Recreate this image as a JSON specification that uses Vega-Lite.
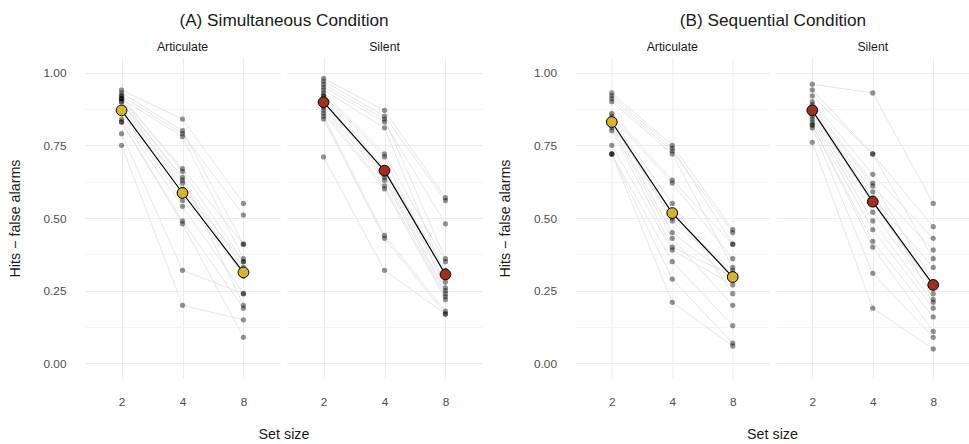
{
  "$schema": "https://vega.github.io/schema/vega-lite/v6.json",
  "padding": {"left": 8, "top": 11, "right": 0, "bottom": 0},
  "config": {
    "view": {"stroke": null},
    "font": "Liberation Sans",
    "axis": {"ticks": false, "domain": false, "gridColor": "#ebebeb", "gridWidth": 1, "labelColor": "#4d4d4d", "labelFontSize": 11.8, "titleFontWeight": "normal", "titleColor": "#1a1a1a", "titleFontSize": 14.3},
    "header": {"labelFontSize": 12.3, "labelColor": "#1a1a1a", "titleFontSize": 14.3, "titleFontWeight": "normal", "titleColor": "#1a1a1a"},
    "title": {"fontSize": 17.2, "fontWeight": "normal", "color": "#1a1a1a"}
  },
  "datasets": {
    "d": [
      {"c":"A","t":"Articulate","s":"1","x":2,"y":0.94},{"c":"A","t":"Articulate","s":"1","x":4,"y":0.84},{"c":"A","t":"Articulate","s":"1","x":8,"y":0.55},
      {"c":"A","t":"Articulate","s":"2","x":2,"y":0.93},{"c":"A","t":"Articulate","s":"2","x":4,"y":0.80},{"c":"A","t":"Articulate","s":"2","x":8,"y":0.41},
      {"c":"A","t":"Articulate","s":"3","x":2,"y":0.92},{"c":"A","t":"Articulate","s":"3","x":4,"y":0.79},{"c":"A","t":"Articulate","s":"3","x":8,"y":0.51},
      {"c":"A","t":"Articulate","s":"4","x":2,"y":0.92},{"c":"A","t":"Articulate","s":"4","x":4,"y":0.66},{"c":"A","t":"Articulate","s":"4","x":8,"y":0.35},
      {"c":"A","t":"Articulate","s":"5","x":2,"y":0.91},{"c":"A","t":"Articulate","s":"5","x":4,"y":0.78},{"c":"A","t":"Articulate","s":"5","x":8,"y":0.36},
      {"c":"A","t":"Articulate","s":"6","x":2,"y":0.91},{"c":"A","t":"Articulate","s":"6","x":4,"y":0.67},{"c":"A","t":"Articulate","s":"6","x":8,"y":0.41},
      {"c":"A","t":"Articulate","s":"7","x":2,"y":0.91},{"c":"A","t":"Articulate","s":"7","x":4,"y":0.63},{"c":"A","t":"Articulate","s":"7","x":8,"y":0.33},
      {"c":"A","t":"Articulate","s":"8","x":2,"y":0.90},{"c":"A","t":"Articulate","s":"8","x":4,"y":0.64},{"c":"A","t":"Articulate","s":"8","x":8,"y":0.20},
      {"c":"A","t":"Articulate","s":"9","x":2,"y":0.90},{"c":"A","t":"Articulate","s":"9","x":4,"y":0.60},{"c":"A","t":"Articulate","s":"9","x":8,"y":0.35},
      {"c":"A","t":"Articulate","s":"10","x":2,"y":0.88},{"c":"A","t":"Articulate","s":"10","x":4,"y":0.62},{"c":"A","t":"Articulate","s":"10","x":8,"y":0.30},
      {"c":"A","t":"Articulate","s":"11","x":2,"y":0.86},{"c":"A","t":"Articulate","s":"11","x":4,"y":0.56},{"c":"A","t":"Articulate","s":"11","x":8,"y":0.31},
      {"c":"A","t":"Articulate","s":"12","x":2,"y":0.84},{"c":"A","t":"Articulate","s":"12","x":4,"y":0.54},{"c":"A","t":"Articulate","s":"12","x":8,"y":0.24},
      {"c":"A","t":"Articulate","s":"13","x":2,"y":0.83},{"c":"A","t":"Articulate","s":"13","x":4,"y":0.49},{"c":"A","t":"Articulate","s":"13","x":8,"y":0.19},
      {"c":"A","t":"Articulate","s":"14","x":2,"y":0.83},{"c":"A","t":"Articulate","s":"14","x":4,"y":0.48},{"c":"A","t":"Articulate","s":"14","x":8,"y":0.09},
      {"c":"A","t":"Articulate","s":"15","x":2,"y":0.79},{"c":"A","t":"Articulate","s":"15","x":4,"y":0.32},{"c":"A","t":"Articulate","s":"15","x":8,"y":0.24},
      {"c":"A","t":"Articulate","s":"16","x":2,"y":0.75},{"c":"A","t":"Articulate","s":"16","x":4,"y":0.20},{"c":"A","t":"Articulate","s":"16","x":8,"y":0.15},
      {"c":"A","t":"Silent","s":"1","x":2,"y":0.98},{"c":"A","t":"Silent","s":"1","x":4,"y":0.87},{"c":"A","t":"Silent","s":"1","x":8,"y":0.57},
      {"c":"A","t":"Silent","s":"2","x":2,"y":0.97},{"c":"A","t":"Silent","s":"2","x":4,"y":0.85},{"c":"A","t":"Silent","s":"2","x":8,"y":0.56},
      {"c":"A","t":"Silent","s":"3","x":2,"y":0.96},{"c":"A","t":"Silent","s":"3","x":4,"y":0.84},{"c":"A","t":"Silent","s":"3","x":8,"y":0.36},
      {"c":"A","t":"Silent","s":"4","x":2,"y":0.95},{"c":"A","t":"Silent","s":"4","x":4,"y":0.83},{"c":"A","t":"Silent","s":"4","x":8,"y":0.48},
      {"c":"A","t":"Silent","s":"5","x":2,"y":0.94},{"c":"A","t":"Silent","s":"5","x":4,"y":0.81},{"c":"A","t":"Silent","s":"5","x":8,"y":0.30},
      {"c":"A","t":"Silent","s":"6","x":2,"y":0.93},{"c":"A","t":"Silent","s":"6","x":4,"y":0.72},{"c":"A","t":"Silent","s":"6","x":8,"y":0.35},
      {"c":"A","t":"Silent","s":"7","x":2,"y":0.92},{"c":"A","t":"Silent","s":"7","x":4,"y":0.71},{"c":"A","t":"Silent","s":"7","x":8,"y":0.26},
      {"c":"A","t":"Silent","s":"8","x":2,"y":0.92},{"c":"A","t":"Silent","s":"8","x":4,"y":0.67},{"c":"A","t":"Silent","s":"8","x":8,"y":0.32},
      {"c":"A","t":"Silent","s":"9","x":2,"y":0.91},{"c":"A","t":"Silent","s":"9","x":4,"y":0.65},{"c":"A","t":"Silent","s":"9","x":8,"y":0.28},
      {"c":"A","t":"Silent","s":"10","x":2,"y":0.90},{"c":"A","t":"Silent","s":"10","x":4,"y":0.64},{"c":"A","t":"Silent","s":"10","x":8,"y":0.25},
      {"c":"A","t":"Silent","s":"11","x":2,"y":0.88},{"c":"A","t":"Silent","s":"11","x":4,"y":0.63},{"c":"A","t":"Silent","s":"11","x":8,"y":0.24},
      {"c":"A","t":"Silent","s":"12","x":2,"y":0.87},{"c":"A","t":"Silent","s":"12","x":4,"y":0.61},{"c":"A","t":"Silent","s":"12","x":8,"y":0.23},
      {"c":"A","t":"Silent","s":"13","x":2,"y":0.86},{"c":"A","t":"Silent","s":"13","x":4,"y":0.60},{"c":"A","t":"Silent","s":"13","x":8,"y":0.22},
      {"c":"A","t":"Silent","s":"14","x":2,"y":0.85},{"c":"A","t":"Silent","s":"14","x":4,"y":0.44},{"c":"A","t":"Silent","s":"14","x":8,"y":0.18},
      {"c":"A","t":"Silent","s":"15","x":2,"y":0.84},{"c":"A","t":"Silent","s":"15","x":4,"y":0.43},{"c":"A","t":"Silent","s":"15","x":8,"y":0.17},
      {"c":"A","t":"Silent","s":"16","x":2,"y":0.71},{"c":"A","t":"Silent","s":"16","x":4,"y":0.32},{"c":"A","t":"Silent","s":"16","x":8,"y":0.17},
      {"c":"B","t":"Articulate","s":"1","x":2,"y":0.93},{"c":"B","t":"Articulate","s":"1","x":4,"y":0.75},{"c":"B","t":"Articulate","s":"1","x":8,"y":0.46},
      {"c":"B","t":"Articulate","s":"2","x":2,"y":0.92},{"c":"B","t":"Articulate","s":"2","x":4,"y":0.74},{"c":"B","t":"Articulate","s":"2","x":8,"y":0.41},
      {"c":"B","t":"Articulate","s":"3","x":2,"y":0.91},{"c":"B","t":"Articulate","s":"3","x":4,"y":0.73},{"c":"B","t":"Articulate","s":"3","x":8,"y":0.45},
      {"c":"B","t":"Articulate","s":"4","x":2,"y":0.90},{"c":"B","t":"Articulate","s":"4","x":4,"y":0.72},{"c":"B","t":"Articulate","s":"4","x":8,"y":0.33},
      {"c":"B","t":"Articulate","s":"5","x":2,"y":0.86},{"c":"B","t":"Articulate","s":"5","x":4,"y":0.63},{"c":"B","t":"Articulate","s":"5","x":8,"y":0.41},
      {"c":"B","t":"Articulate","s":"6","x":2,"y":0.85},{"c":"B","t":"Articulate","s":"6","x":4,"y":0.62},{"c":"B","t":"Articulate","s":"6","x":8,"y":0.36},
      {"c":"B","t":"Articulate","s":"7","x":2,"y":0.84},{"c":"B","t":"Articulate","s":"7","x":4,"y":0.55},{"c":"B","t":"Articulate","s":"7","x":8,"y":0.24},
      {"c":"B","t":"Articulate","s":"8","x":2,"y":0.83},{"c":"B","t":"Articulate","s":"8","x":4,"y":0.50},{"c":"B","t":"Articulate","s":"8","x":8,"y":0.32},
      {"c":"B","t":"Articulate","s":"9","x":2,"y":0.83},{"c":"B","t":"Articulate","s":"9","x":4,"y":0.49},{"c":"B","t":"Articulate","s":"9","x":8,"y":0.31},
      {"c":"B","t":"Articulate","s":"10","x":2,"y":0.82},{"c":"B","t":"Articulate","s":"10","x":4,"y":0.45},{"c":"B","t":"Articulate","s":"10","x":8,"y":0.29},
      {"c":"B","t":"Articulate","s":"11","x":2,"y":0.81},{"c":"B","t":"Articulate","s":"11","x":4,"y":0.43},{"c":"B","t":"Articulate","s":"11","x":8,"y":0.20},
      {"c":"B","t":"Articulate","s":"12","x":2,"y":0.80},{"c":"B","t":"Articulate","s":"12","x":4,"y":0.40},{"c":"B","t":"Articulate","s":"12","x":8,"y":0.30},
      {"c":"B","t":"Articulate","s":"13","x":2,"y":0.75},{"c":"B","t":"Articulate","s":"13","x":4,"y":0.39},{"c":"B","t":"Articulate","s":"13","x":8,"y":0.27},
      {"c":"B","t":"Articulate","s":"14","x":2,"y":0.72},{"c":"B","t":"Articulate","s":"14","x":4,"y":0.35},{"c":"B","t":"Articulate","s":"14","x":8,"y":0.13},
      {"c":"B","t":"Articulate","s":"15","x":2,"y":0.72},{"c":"B","t":"Articulate","s":"15","x":4,"y":0.29},{"c":"B","t":"Articulate","s":"15","x":8,"y":0.07},
      {"c":"B","t":"Articulate","s":"16","x":2,"y":0.72},{"c":"B","t":"Articulate","s":"16","x":4,"y":0.21},{"c":"B","t":"Articulate","s":"16","x":8,"y":0.06},
      {"c":"B","t":"Silent","s":"1","x":2,"y":0.96},{"c":"B","t":"Silent","s":"1","x":4,"y":0.93},{"c":"B","t":"Silent","s":"1","x":8,"y":0.55},
      {"c":"B","t":"Silent","s":"2","x":2,"y":0.94},{"c":"B","t":"Silent","s":"2","x":4,"y":0.72},{"c":"B","t":"Silent","s":"2","x":8,"y":0.47},
      {"c":"B","t":"Silent","s":"3","x":2,"y":0.92},{"c":"B","t":"Silent","s":"3","x":4,"y":0.72},{"c":"B","t":"Silent","s":"3","x":8,"y":0.36},
      {"c":"B","t":"Silent","s":"4","x":2,"y":0.90},{"c":"B","t":"Silent","s":"4","x":4,"y":0.65},{"c":"B","t":"Silent","s":"4","x":8,"y":0.43},
      {"c":"B","t":"Silent","s":"5","x":2,"y":0.89},{"c":"B","t":"Silent","s":"5","x":4,"y":0.62},{"c":"B","t":"Silent","s":"5","x":8,"y":0.28},
      {"c":"B","t":"Silent","s":"6","x":2,"y":0.88},{"c":"B","t":"Silent","s":"6","x":4,"y":0.61},{"c":"B","t":"Silent","s":"6","x":8,"y":0.39},
      {"c":"B","t":"Silent","s":"7","x":2,"y":0.87},{"c":"B","t":"Silent","s":"7","x":4,"y":0.59},{"c":"B","t":"Silent","s":"7","x":8,"y":0.22},
      {"c":"B","t":"Silent","s":"8","x":2,"y":0.87},{"c":"B","t":"Silent","s":"8","x":4,"y":0.57},{"c":"B","t":"Silent","s":"8","x":8,"y":0.33},
      {"c":"B","t":"Silent","s":"9","x":2,"y":0.86},{"c":"B","t":"Silent","s":"9","x":4,"y":0.55},{"c":"B","t":"Silent","s":"9","x":8,"y":0.26},
      {"c":"B","t":"Silent","s":"10","x":2,"y":0.85},{"c":"B","t":"Silent","s":"10","x":4,"y":0.52},{"c":"B","t":"Silent","s":"10","x":8,"y":0.24},
      {"c":"B","t":"Silent","s":"11","x":2,"y":0.84},{"c":"B","t":"Silent","s":"11","x":4,"y":0.49},{"c":"B","t":"Silent","s":"11","x":8,"y":0.21},
      {"c":"B","t":"Silent","s":"12","x":2,"y":0.83},{"c":"B","t":"Silent","s":"12","x":4,"y":0.46},{"c":"B","t":"Silent","s":"12","x":8,"y":0.19},
      {"c":"B","t":"Silent","s":"13","x":2,"y":0.82},{"c":"B","t":"Silent","s":"13","x":4,"y":0.42},{"c":"B","t":"Silent","s":"13","x":8,"y":0.16},
      {"c":"B","t":"Silent","s":"14","x":2,"y":0.82},{"c":"B","t":"Silent","s":"14","x":4,"y":0.40},{"c":"B","t":"Silent","s":"14","x":8,"y":0.11},
      {"c":"B","t":"Silent","s":"15","x":2,"y":0.81},{"c":"B","t":"Silent","s":"15","x":4,"y":0.31},{"c":"B","t":"Silent","s":"15","x":8,"y":0.09},
      {"c":"B","t":"Silent","s":"16","x":2,"y":0.76},{"c":"B","t":"Silent","s":"16","x":4,"y":0.19},{"c":"B","t":"Silent","s":"16","x":8,"y":0.05},
      {"c":"A","t":"Articulate","s":"M","x":2,"y":0.870},{"c":"A","t":"Articulate","s":"M","x":4,"y":0.586},{"c":"A","t":"Articulate","s":"M","x":8,"y":0.313},
      {"c":"A","t":"Silent","s":"M","x":2,"y":0.898},{"c":"A","t":"Silent","s":"M","x":4,"y":0.663},{"c":"A","t":"Silent","s":"M","x":8,"y":0.306},
      {"c":"B","t":"Articulate","s":"M","x":2,"y":0.830},{"c":"B","t":"Articulate","s":"M","x":4,"y":0.517},{"c":"B","t":"Articulate","s":"M","x":8,"y":0.297},
      {"c":"B","t":"Silent","s":"M","x":2,"y":0.870},{"c":"B","t":"Silent","s":"M","x":4,"y":0.556},{"c":"B","t":"Silent","s":"M","x":8,"y":0.270}
    ]
  },
  "spacing": 16.5,
  "hconcat": [
    {
      "data": {"name": "d"},
      "transform": [{"filter": "datum.c == 'A'"}],
      "title": {"text": "(A) Simultaneous Condition", "anchor": "middle", "offset": 12, "dx": 39},
      "spacing": 7,
      "facet": {"column": {"field": "t", "type": "nominal", "title": "Set size", "header": {"labelOrient": "top", "titleOrient": "bottom", "labelPadding": 5, "titlePadding": 10}}},
      "spec": {
        "width": 195, "height": 320,
        "encoding": {
          "x": {"field": "x", "type": "ordinal", "scale": {"type": "point", "padding": 0.6}, "axis": {"title": null, "labelAngle": 0, "labelPadding": 18, "grid": true}},
          "y": {"field": "y", "type": "quantitative", "scale": {"domain": [-0.05, 1.05], "nice": false, "zero": false}, "axis": {"title": "Hits − false alarms", "values": [0, 0.125, 0.25, 0.375, 0.5, 0.625, 0.75, 0.875, 1], "labelExpr": "datum.value * 4 % 1 == 0 ? format(datum.value, '.2f') : ''", "gridColor": {"condition": {"test": "datum.value * 4 % 1 != 0", "value": "#f4f4f4"}, "value": "#ebebeb"}, "labelPadding": 19, "titlePadding": 21}}
        },
        "layer": [
          {"transform": [{"filter": "datum.s != 'M'"}], "mark": {"type": "line", "color": "#dedede", "strokeWidth": 0.8}, "encoding": {"detail": {"field": "s"}}},
          {"transform": [{"filter": "datum.s != 'M'"}], "mark": {"type": "circle", "color": "#000000", "opacity": 0.42, "size": 28}},
          {"transform": [{"filter": "datum.s == 'M'"}], "mark": {"type": "line", "color": "#000000", "strokeWidth": 1.2}},
          {"transform": [{"filter": "datum.s == 'M'"}], "mark": {"type": "point", "filled": true, "shape": "circle", "size": 115, "stroke": "#000000", "strokeWidth": 1, "opacity": 1},
           "encoding": {"fill": {"field": "t", "type": "nominal", "scale": {"domain": ["Articulate", "Silent"], "range": ["#D6B42E", "#A0301C"]}, "legend": null}}}
        ]
      }
    },
    {
      "data": {"name": "d"},
      "transform": [{"filter": "datum.c == 'B'"}],
      "title": {"text": "(B) Sequential Condition", "anchor": "middle", "offset": 12, "dx": 39},
      "spacing": 6.5,
      "facet": {"column": {"field": "t", "type": "nominal", "title": "Set size", "header": {"labelOrient": "top", "titleOrient": "bottom", "labelPadding": 5, "titlePadding": 10}}},
      "spec": {
        "width": 193.5, "height": 320,
        "encoding": {
          "x": {"field": "x", "type": "ordinal", "scale": {"type": "point", "padding": 0.6}, "axis": {"title": null, "labelAngle": 0, "labelPadding": 18, "grid": true}},
          "y": {"field": "y", "type": "quantitative", "scale": {"domain": [-0.05, 1.05], "nice": false, "zero": false}, "axis": {"title": "Hits − false alarms", "values": [0, 0.125, 0.25, 0.375, 0.5, 0.625, 0.75, 0.875, 1], "labelExpr": "datum.value * 4 % 1 == 0 ? format(datum.value, '.2f') : ''", "gridColor": {"condition": {"test": "datum.value * 4 % 1 != 0", "value": "#f4f4f4"}, "value": "#ebebeb"}, "labelPadding": 19, "titlePadding": 21}}
        },
        "layer": [
          {"transform": [{"filter": "datum.s != 'M'"}], "mark": {"type": "line", "color": "#dedede", "strokeWidth": 0.8}, "encoding": {"detail": {"field": "s"}}},
          {"transform": [{"filter": "datum.s != 'M'"}], "mark": {"type": "circle", "color": "#000000", "opacity": 0.42, "size": 28}},
          {"transform": [{"filter": "datum.s == 'M'"}], "mark": {"type": "line", "color": "#000000", "strokeWidth": 1.2}},
          {"transform": [{"filter": "datum.s == 'M'"}], "mark": {"type": "point", "filled": true, "shape": "circle", "size": 115, "stroke": "#000000", "strokeWidth": 1, "opacity": 1},
           "encoding": {"fill": {"field": "t", "type": "nominal", "scale": {"domain": ["Articulate", "Silent"], "range": ["#D6B42E", "#A0301C"]}, "legend": null}}}
        ]
      }
    }
  ]
}
